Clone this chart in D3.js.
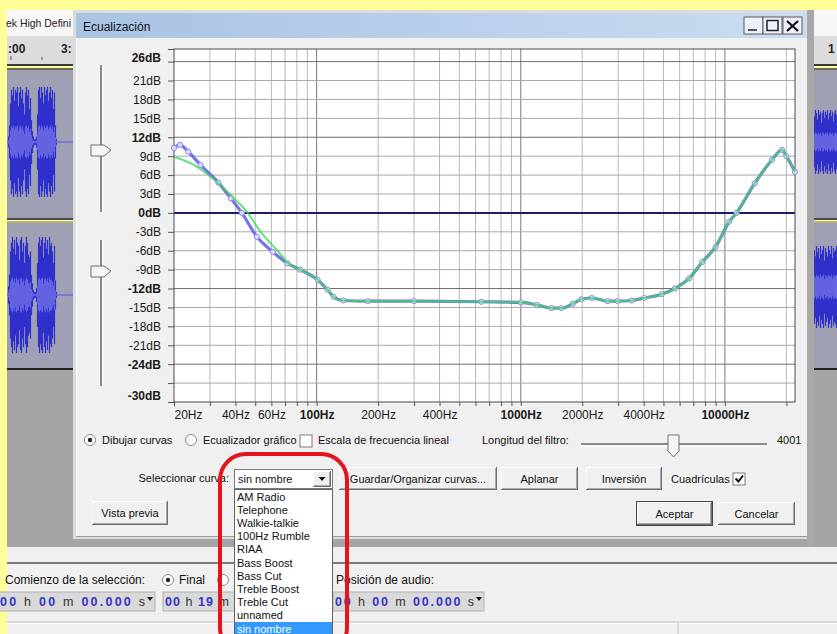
<!DOCTYPE html>
<html><head><meta charset="utf-8">
<script src="https://cdn.jsdelivr.net/npm/d3@7"></script>
<style>body{margin:0;background:#ffff9a;} svg{display:block;font-family:"Liberation Sans",Arial,sans-serif;}</style>
</head><body><svg id="c" width="837" height="634"></svg>
<script>
// ---------- data ----------
const yLabelTicks = [26,21,18,15,12,9,6,3,0,-3,-6,-9,-12,-15,-18,-21,-24,-30];
const yMinorTicks = [24,-27];
const yBoldTicks = [26,12,0,-12,-24,-30];
const yGridDb = [24,21,18,15,12,9,6,3,-3,-6,-9,-12,-15,-18,-21,-24,-27];
const yDarkGridDb = [24,12,-12,-24];
const xLabelFreqs = [20,40,60,100,200,400,1000,2000,4000,10000];
const xBoldFreqs = [100,1000,10000];
const xGridFreqs = [30,40,50,60,70,80,90,100,200,300,400,500,600,700,800,900,1000,2000,3000,4000,5000,6000,7000,8000,9000,10000,20000];
const xDecadeFreqs = [100,1000,10000];

const blueFreq = [20,21.4,23.5,27,33,38,43,51,61,72,83,101,113,121,135,178,300,640,1000,1200,1410,1580,1800,1980,2230,2660,2980,3500,4030,4900,5680,6670,7740,9000,10500,11400,14000,17000,19060,20000,22050];
const blueDb   = [10.3,10.8,9.7,7.6,4.8,2.3,0,-3.8,-6.2,-8,-9,-10.6,-12.2,-13.3,-13.9,-14,-14,-14.1,-14.2,-14.6,-15.1,-15.1,-14.4,-13.7,-13.5,-14,-14,-13.9,-13.5,-12.9,-12,-10.4,-7.8,-5.4,-1.4,0,4.7,8.4,10.0,9.0,6.5];
const greenFreq = [20,25,30,35,40,46,52,57.5,66,72,83,101,113,121,135,178,300,640,1000,1200,1410,1580,1800,1980,2230,2660,2980,3500,4030,4900,5680,6670,7740,9000,10500,11400,14000,17000,19060,20000,22050];
const greenDb   = [8.9,7.6,5.8,3.9,2.1,0,-2.6,-4.3,-6.4,-7.9,-9,-10.6,-12.2,-13.3,-13.9,-14,-14,-14.1,-14.2,-14.6,-15.1,-15.1,-14.4,-13.7,-13.5,-14,-14,-13.9,-13.5,-12.9,-12,-10.4,-7.8,-5.4,-1.4,0,4.7,8.4,10.0,9.0,6.5];

const curveNames = ["AM Radio","Telephone","Walkie-talkie","100Hz Rumble","RIAA","Bass Boost","Bass Cut","Treble Boost","Treble Cut","unnamed","sin nombre"];
const selectedCurve = "sin nombre";
const filterLength = "4001";

const waveLeft1 = [0.1,0.3,0.7,0.95,0.85,1.0,0.75,0.95,0.9,1.0,0.65,0.9,1.0,0.8,0.95,0.7,0.5,0.9,1.0,0.85,0.95,0.6,0.8,0.4,0.2,0.1,0.05,0.05,0.1,0.5,0.95,1.0,0.8,1.0,0.9,0.7,1.0,0.85,0.95,1.0,0.75,0.9,1.0,0.8,0.95,0.6,0.9,0.3,0.05,0];
const waveLeft2 = [0.15,0.35,0.75,0.9,1.0,0.8,0.95,0.7,1.0,0.9,0.85,0.6,0.95,1.0,0.75,0.9,0.55,0.85,1.0,0.9,0.7,0.65,0.75,0.35,0.2,0.08,0.05,0.05,0.12,0.55,0.9,1.0,0.85,0.95,1.0,0.65,0.9,1.0,0.8,0.95,0.7,1.0,0.85,0.9,0.75,0.55,0.85,0.25,0.05,0];
const waveRight1 = [0.8,1.0,0.9,0.7,1.0,0.85,0.95,0.6,0.9,1.0,0.75,0.95,0.85,1.0,0.7,0.9,1.0,0.8,0.95,0.65,0.9,1.0,0.85];
const waveRight2 = [0.9,0.75,1.0,0.85,0.95,0.7,1.0,0.8,0.9,1.0,0.65,0.95,0.85,0.75,1.0,0.9,0.8,1.0,0.7,0.95,0.85,0.9,1.0];

// ---------- drawing ----------
const svg = d3.select("#c");
const FONT = '"Liberation Sans", Arial, sans-serif';
svg.append("rect").attr("width",837).attr("height",634).attr("fill","#ffff9a");

function txt(g, x, y, s, o={}) {
  const t = g.append("text").attr("x",x).attr("y",y).text(s)
    .attr("font-size", o.size||11).attr("fill", o.fill||"#111")
    .attr("font-weight", o.weight||"normal").attr("text-anchor", o.anchor||"start");
  if (o.len) t.attr("textLength", o.len).attr("lengthAdjust","spacingAndGlyphs");
  return t;
}
function hline(g,x1,x2,y,c,w){g.append("line").attr("x1",x1).attr("x2",x2).attr("y1",y).attr("y2",y).attr("stroke",c).attr("stroke-width",w||1);}
function vline(g,x,y1,y2,c,w){g.append("line").attr("x1",x).attr("x2",x).attr("y1",y1).attr("y2",y2).attr("stroke",c).attr("stroke-width",w||1);}

// ---- background application (track window) ----
const app = svg.append("g");
app.append("rect").attr("x",7).attr("y",10).attr("width",830).attr("height",26).attr("fill","#f7f7f7");
app.append("rect").attr("x",7).attr("y",36).attr("width",830).attr("height",30).attr("fill","#dcdcdc");
hline(app,7,837,65,"#3a3a3a",2); hline(app,7,837,69,"#3a3a3a",1.5);
app.append("rect").attr("x",7).attr("y",70).attr("width",830).attr("height",148).attr("fill","#a0a0b4");
hline(app,7,837,219,"#4a4a4a",2); hline(app,7,837,222,"#6a6a6a",1);
app.append("rect").attr("x",7).attr("y",223).attr("width",830).attr("height",145).attr("fill","#a0a0b4");
hline(app,7,837,369,"#222",2);
app.append("rect").attr("x",7).attr("y",370).attr("width",830).attr("height",177).attr("fill","#a4a4a4");
app.append("rect").attr("x",7).attr("y",547).attr("width",830).attr("height",87).attr("fill","#f0f0f0");
hline(app,7,837,563,"#7c7c7c",2);
hline(app,7,837,622,"#c4c4c4",1); hline(app,7,837,623.5,"#ffffff",1);
vline(app,678,623,634,"#c4c4c4",1);
txt(app,6,27,"ek High Defini",{size:11,fill:"#222",len:65});
txt(app,8,53,":00",{size:12,weight:"bold",fill:"#222"});
txt(app,61,53,"3:",{size:12,weight:"bold",fill:"#222"});
txt(app,828,53,"1",{size:12,weight:"bold",fill:"#222"});
vline(app,11,56,60,"#555"); vline(app,42,57,60,"#555");
// center lines
hline(app,7,837,142,"#6d6de0",1.5); hline(app,7,837,295,"#6d6de0",1.5);
function wave(arr, x0, cy, half) {
  arr.forEach((a,i)=>{
    if (a<=0) return;
    vline(app,x0+i+0.5,cy-a*half,cy+a*half,"#3030cc",1.2);
    vline(app,x0+i+0.5,cy-a*half*0.3,cy+a*half*0.3,"#6a6ae4",1.2);
  });
}
wave(waveLeft1,8,142,55);
wave(waveLeft2,8,295,58);
wave(waveRight1,814,142,32);
wave(waveRight2,814,287,41);

// bottom toolbar
txt(app,5,584,"Comienzo de la selección:",{size:12,fill:"#111"});
function radio(g,cx,cy,on){
  g.append("circle").attr("cx",cx).attr("cy",cy).attr("r",5.5).attr("fill","#fff").attr("stroke","#8a8a8a");
  if(on) g.append("circle").attr("cx",cx).attr("cy",cy).attr("r",2.2).attr("fill","#222");
}
radio(app,168,580,true);
txt(app,179,584,"Final",{size:12});
radio(app,223,580,false);
txt(app,336,584,"Posición de audio:",{size:12});
function timeField(g,x,w,parts,tw){
  g.append("rect").attr("x",x).attr("y",592).attr("width",w).attr("height",19).attr("fill","#d9d9d9").attr("stroke","#b0b0b0");
  const t = g.append("text").attr("x",x+2).attr("y",606).attr("font-size",12.5).attr("font-weight","bold")
    .attr("textLength",tw||(w-12)).attr("lengthAdjust","spacing");
  parts.forEach((p,i)=>t.append("tspan").text(p).attr("fill", i%2===0?"#3434c8":"#333").attr("font-weight", i%2===0?"bold":"normal"));
  g.append("path").attr("d",`M${x+w-8},${597} l6,0 l-3,4 z`).attr("fill","#111");
}
timeField(app,-2,157,["00"," h ","00"," m ","00.000"," s"]);
timeField(app,163,165,["00"," h ","19"," m"],64);
timeField(app,333,151,["00"," h ","00"," m ","00.000"," s"]);

// ---- dialog ----
const dlg = svg.append("g");
dlg.append("rect").attr("x",73).attr("y",10).attr("width",741).attr("height",529).attr("fill","#dcdcdc");
dlg.append("rect").attr("x",807).attr("y",10).attr("width",7).attr("height",537).attr("fill","#a8a8a8");
const grad = svg.append("defs").append("linearGradient").attr("id","tb");
grad.append("stop").attr("offset","0%").attr("stop-color","#a9c3e4");
grad.append("stop").attr("offset","100%").attr("stop-color","#c9dcf1");
dlg.append("rect").attr("x",76).attr("y",13).attr("width",731).attr("height",25).attr("fill","url(#tb)");
dlg.append("rect").attr("x",76).attr("y",38).attr("width",731).attr("height",498).attr("fill","#f0f0f0");
vline(dlg,76.5,38,536,"#ffffff",1);
hline(dlg,76,807,536.5,"#9a9a9a",1);
txt(dlg,83,31,"Ecualización",{size:12,fill:"#111"});
// caption buttons
[744,763,783].forEach(bx=>{
  dlg.append("rect").attr("x",bx).attr("y",17).attr("width",19).attr("height",17).attr("fill","#eef2f8").attr("stroke","#5a5a5a");
});
dlg.append("line").attr("x1",748).attr("x2",757).attr("y1",30).attr("y2",30).attr("stroke","#222").attr("stroke-width",1.5);
dlg.append("rect").attr("x",767).attr("y",20.5).attr("width",11).attr("height",10).attr("fill","none").attr("stroke","#222").attr("stroke-width",1.5);
dlg.append("path").attr("d","M787,21 L798,31 M798,21 L787,31").attr("stroke","#111").attr("stroke-width",2.2);

// left sliders
function vslider(y1,y2,ty){
  vline(dlg,101,y1,y2,"#8a8a8a",2); vline(dlg,103,y1,y2,"#ffffff",1);
  dlg.append("path").attr("d",`M91,${ty-5} L104,${ty-5} L111,${ty} L104,${ty+6} L91,${ty+6} Z`).attr("fill","#f4f4f4").attr("stroke","#6e6e6e");
}
vslider(65,212,150);
vslider(240,386,271);

// ---- plot ----
const x = d3.scaleLog().domain([20,22050]).range([174,795]);
const y = d3.scaleLinear().domain([-30,26]).range([402,49]);
const plot = dlg.append("g");
plot.append("rect").attr("x",174).attr("y",49).attr("width",621).attr("height",353).attr("fill","#fff");
plot.selectAll(".vg").data(xGridFreqs).enter().append("line")
  .attr("x1",d=>x(d)).attr("x2",d=>x(d)).attr("y1",49).attr("y2",402)
  .attr("stroke",d=>xDecadeFreqs.includes(d)?"#7a7a7a":"#b9b9b9").attr("stroke-width",1);
plot.selectAll(".hg").data(yGridDb).enter().append("line")
  .attr("x1",174).attr("x2",795).attr("y1",d=>y(d)).attr("y2",d=>y(d))
  .attr("stroke",d=>yDarkGridDb.includes(d)?"#6e6e6e":"#a9a9a9").attr("stroke-width",1);
plot.append("line").attr("x1",174).attr("x2",795).attr("y1",y(0)).attr("y2",y(0)).attr("stroke","#1c1c66").attr("stroke-width",2);
plot.append("rect").attr("x",174).attr("y",49).attr("width",621).attr("height",353).attr("fill","none").attr("stroke","#4a4a4a");

// axes
const yAxis = d3.axisLeft(y).tickValues(yLabelTicks.concat(yMinorTicks)).tickSize(6).tickPadding(7)
  .tickFormat(d=>yLabelTicks.includes(d)? d+"dB" : "");
const ya = dlg.append("g").attr("transform","translate(174,0)").call(yAxis);
ya.select(".domain").remove();
ya.selectAll(".tick line").attr("stroke","#555");
ya.selectAll("text").attr("font-family",FONT).attr("font-size",12).attr("fill","#1a1a1a")
  .attr("font-weight",d=>yBoldTicks.includes(d)?"bold":"normal")
  .attr("dy",d=> d===26 ? "1.05em" : d===-30 ? "-0.25em" : "0.32em");

const xAxis = d3.axisBottom(x).tickValues([20].concat(xGridFreqs)).tickSize(4).tickPadding(4)
  .tickFormat(d=>xLabelFreqs.includes(d)? d+"Hz" : "");
const xa = dlg.append("g").attr("transform","translate(0,402)").call(xAxis);
xa.select(".domain").remove();
xa.selectAll(".tick line").attr("stroke","#555");
xa.selectAll("text").attr("font-family",FONT).attr("font-size",12).attr("fill","#1a1a1a")
  .attr("font-weight",d=>xBoldFreqs.includes(d)?"bold":"normal")
  .attr("text-anchor",d=>d===20?"start":"middle");

// curves
const blue = blueFreq.map((f,i)=>[f,blueDb[i]]);
const green = greenFreq.map((f,i)=>[f,greenDb[i]]);
const line = d3.line().x(d=>x(d[0])).y(d=>y(d[1])).curve(d3.curveMonotoneX);
plot.append("path").attr("d",line(blue)).attr("fill","none").attr("stroke","#6767e4").attr("stroke-width",3.2).attr("stroke-opacity",0.9);
plot.selectAll(".mk").data(blue).enter().append("circle")
  .attr("cx",d=>x(d[0])).attr("cy",d=>y(d[1])).attr("r",2.6)
  .attr("fill","#dcdcfc").attr("stroke","#8c8cf0").attr("stroke-width",1);
plot.append("path").attr("d",line(green)).attr("fill","none").attr("stroke","#3cd85a").attr("stroke-width",2).attr("stroke-opacity",0.78);

// ---- controls ----
function checkbox(g,x0,y0,on){
  g.append("rect").attr("x",x0).attr("y",y0).attr("width",12).attr("height",12).attr("fill","#fff").attr("stroke","#7a7a7a");
  if(on) g.append("path").attr("d",`M${x0+2.5},${y0+5.5} l3,3 l4.5,-6`).attr("fill","none").attr("stroke","#111").attr("stroke-width",2);
}
function button(g,x0,y0,x1,y1,label,def){
  g.append("rect").attr("x",x0).attr("y",y0).attr("width",x1-x0).attr("height",y1-y0).attr("fill","#f0f0f0");
  hline(g,x0,x1,y0+0.5,"#ffffff"); vline(g,x0+0.5,y0,y1,"#ffffff");
  hline(g,x0,x1,y1-0.5,"#6e6e6e"); vline(g,x1-0.5,y0,y1,"#6e6e6e");
  hline(g,x0+1,x1-1,y1-1.5,"#a8a8a8"); vline(g,x1-1.5,y0+1,y1-1,"#a8a8a8");
  if(def) g.append("rect").attr("x",x0-0.5).attr("y",y0-0.5).attr("width",x1-x0+1).attr("height",y1-y0+1).attr("fill","none").attr("stroke","#444");
  if(label) txt(g,(x0+x1)/2,(y0+y1)/2+4,label,{size:11,anchor:"middle"});
}
radio(dlg,90,440,true);
txt(dlg,102,444,"Dibujar curvas");
radio(dlg,191,440,false);
txt(dlg,203,444,"Ecualizador gráfico");
checkbox(dlg,300,435,false);
txt(dlg,318,444,"Escala de frecuencia lineal");
txt(dlg,482,444,"Longitud del filtro:");
hline(dlg,581,767,444,"#8a8a8a",2); hline(dlg,581,767,446,"#ffffff",1);
dlg.append("path").attr("d","M668,435 L679,435 L679,451 L673.5,457 L668,451 Z").attr("fill","#f4f4f4").attr("stroke","#6e6e6e");
txt(dlg,777,444,filterLength);

txt(dlg,229,482,"Seleccionar curva:",{anchor:"end"});
dlg.append("rect").attr("x",234.5).attr("y",469.5).attr("width",98).attr("height",19).attr("fill","#fff").attr("stroke","#7a7a7a");
txt(dlg,238,483,selectedCurve);
button(dlg,313,471,331,487,"",false);
dlg.append("path").attr("d","M318.5,477 l7,0 l-3.5,4 z").attr("fill","#111");
button(dlg,339,467,497,490,"Guardar/Organizar curvas...");
button(dlg,501,467,578,490,"Aplanar");
button(dlg,586,467,662,490,"Inversión");
txt(dlg,671,483,"Cuadrículas");
checkbox(dlg,733,473,true);
button(dlg,92,501,168,525,"Vista previa");
button(dlg,637,502,712,525,"Aceptar",true);
button(dlg,718,502,795,525,"Cancelar");

// ---- drop-down list overlay ----
const dd = svg.append("g");
dd.append("rect").attr("x",234.5).attr("y",489.5).attr("width",98).attr("height",150).attr("fill","#fff").attr("stroke","#646464");
curveNames.forEach((n,i)=>{
  const cy = 496.5 + i*13.2;
  if(n===selectedCurve) dd.append("rect").attr("x",235).attr("y",cy-6.5).attr("width",97).attr("height",14).attr("fill","#3399ff");
  txt(dd,237,cy+4,n,{size:11,fill: n===selectedCurve?"#ffffff":"#111"});
});
dd.append("rect").attr("x",220).attr("y",454).attr("width",127).attr("height",200).attr("rx",26)
  .attr("fill","none").attr("stroke","#e3141c").attr("stroke-width",4);
</script></body></html>
